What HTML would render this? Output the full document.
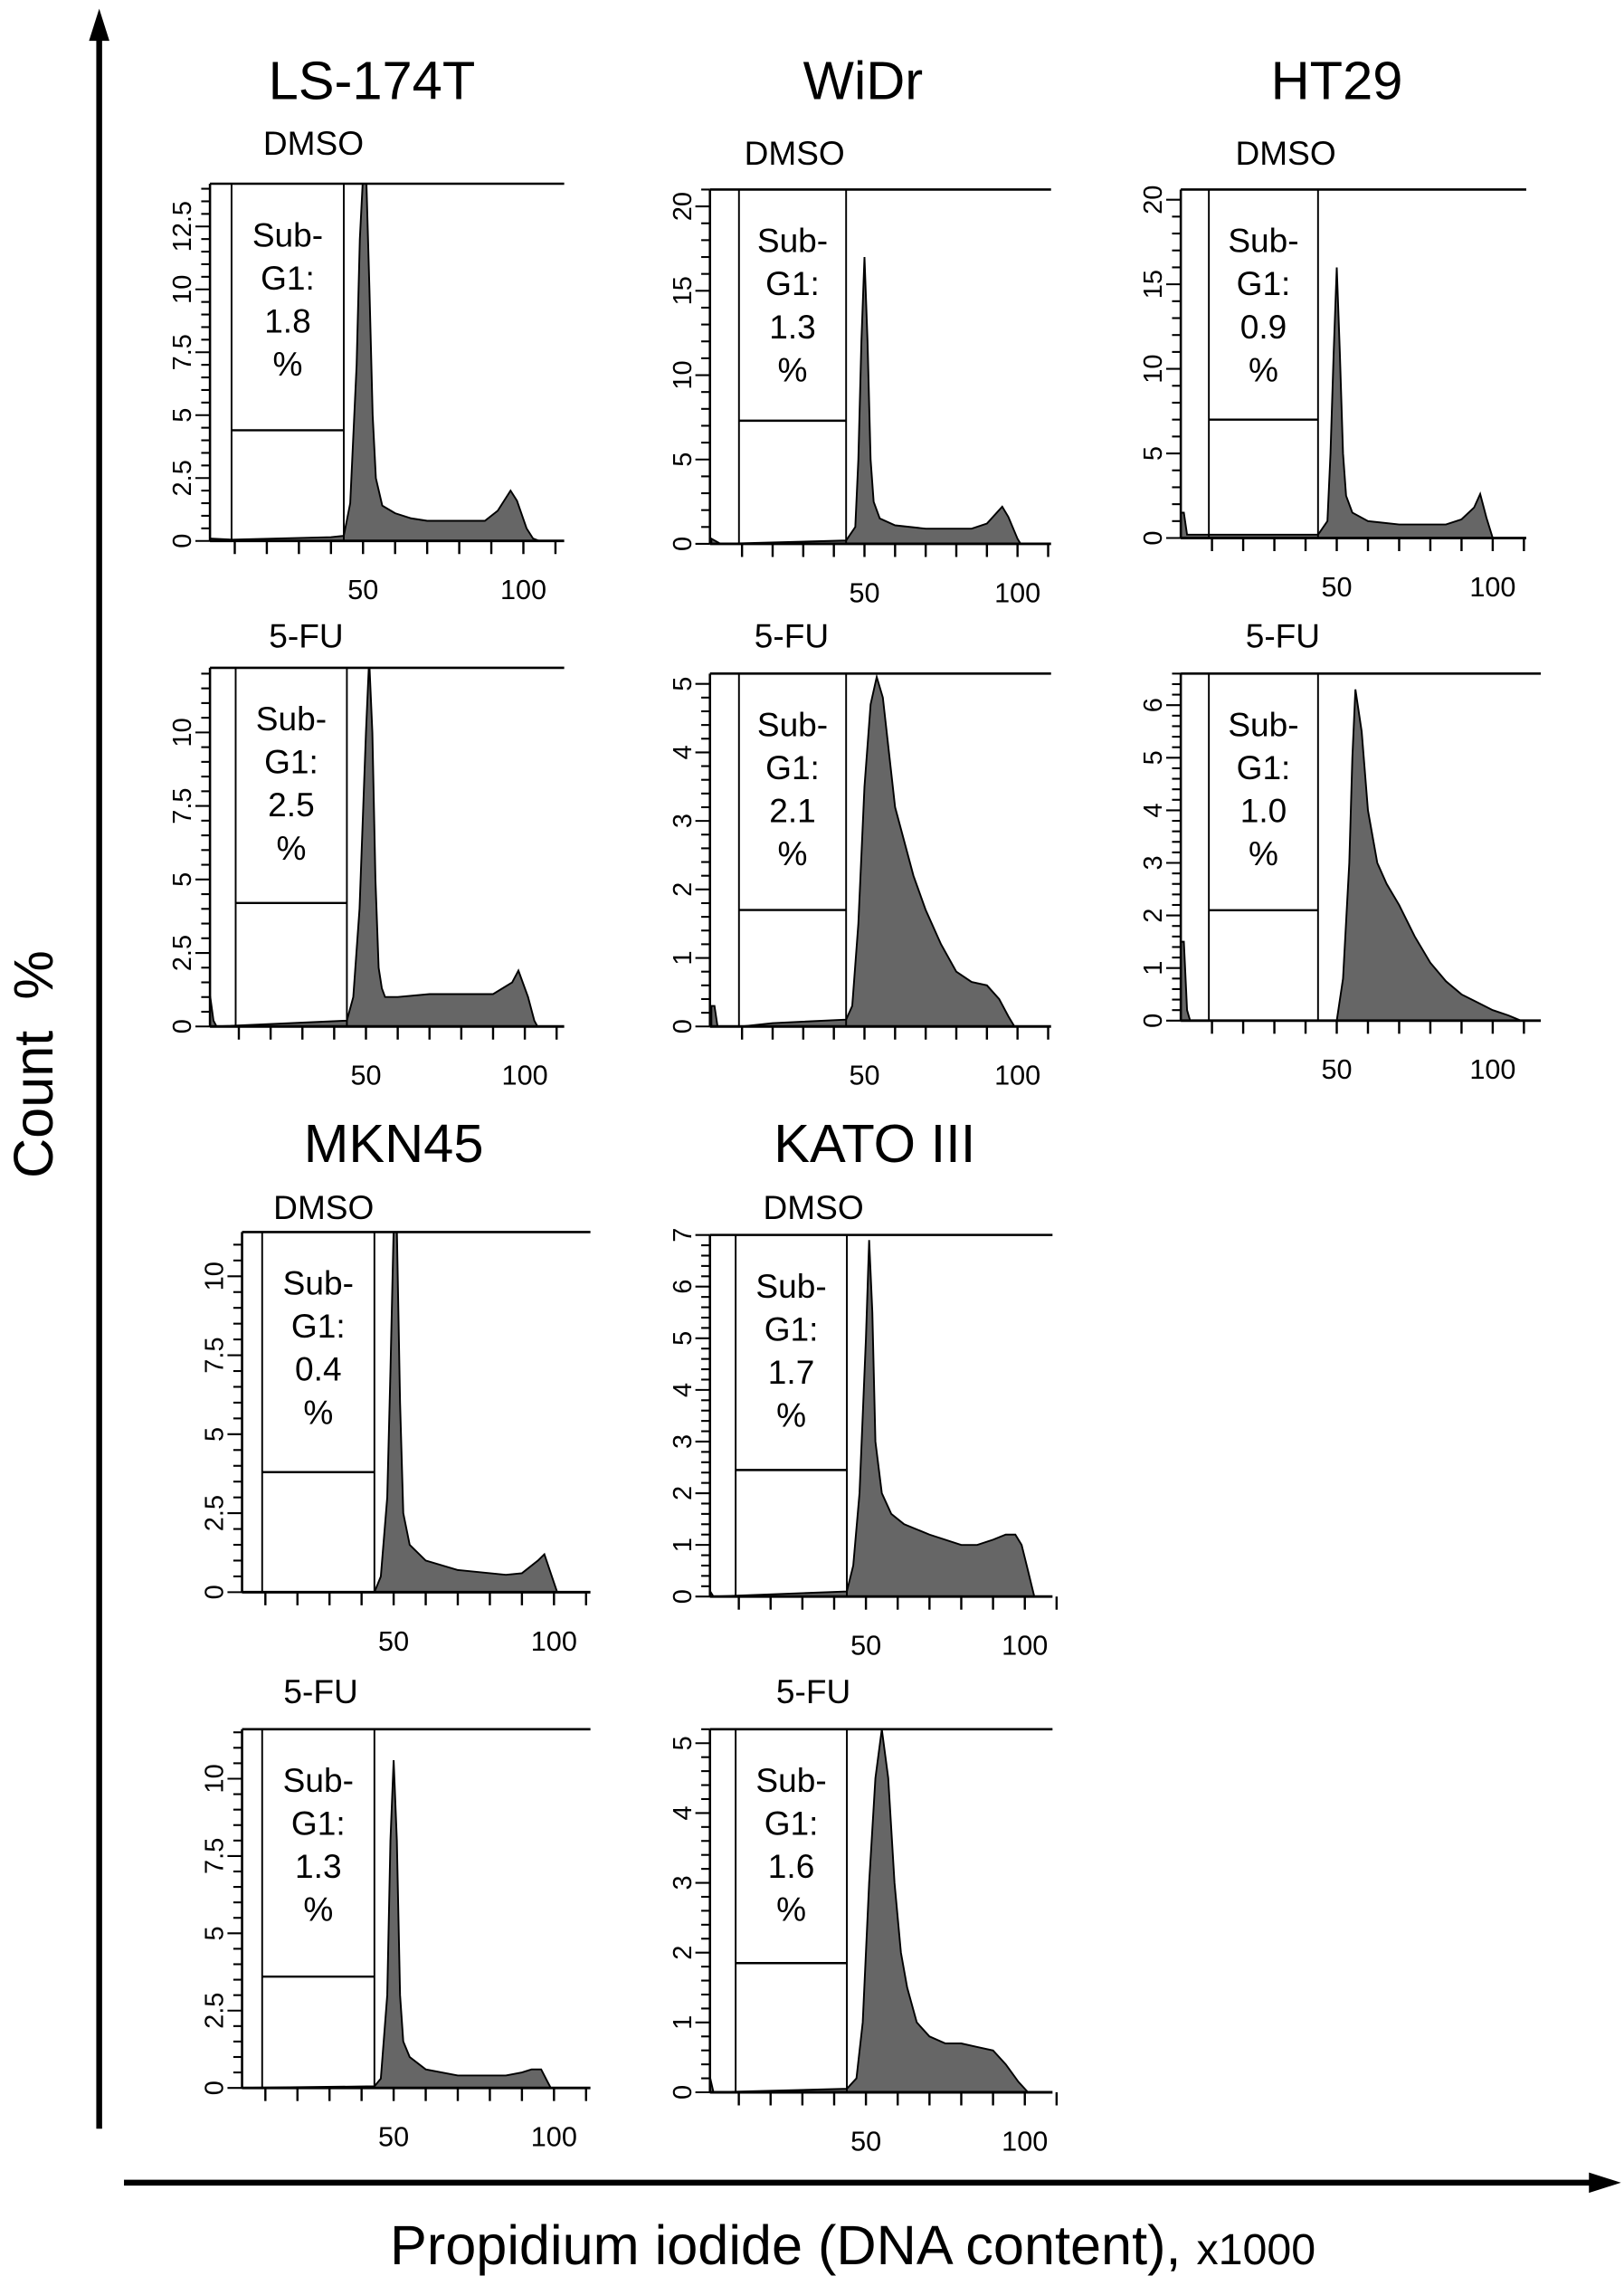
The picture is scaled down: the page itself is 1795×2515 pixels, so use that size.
<!DOCTYPE html>
<html><head><meta charset="utf-8">
<style>
html,body{margin:0;padding:0;background:#fff;}
svg{display:block;}
text{font-family:"Liberation Sans",sans-serif;fill:#000;}
</style></head>
<body>
<svg id="fig" xmlns="http://www.w3.org/2000/svg" width="1795" height="2515" viewBox="0 0 1114 1561">
  <g>
    <line x1="68" y1="1460" x2="68" y2="24" stroke="#000" stroke-width="4"/>
    <polygon points="68,6 61,28 75,28" fill="#000"/>
  </g>
  <g>
    <line x1="85" y1="1497" x2="1094" y2="1497" stroke="#000" stroke-width="4"/>
    <polygon points="1112,1497 1090,1490 1090,1504" fill="#000"/>
  </g>
  <text transform="translate(36,730) rotate(-90)" text-anchor="middle" font-size="38" xml:space="preserve">Count  %</text>
  <text x="585" y="1553" text-anchor="middle" font-size="38">Propidium iodide (DNA content), <tspan font-size="30">x1000</tspan></text>
  <text x="255" y="68" text-anchor="middle" font-size="37">LS-174T</text>
  <text x="592" y="68" text-anchor="middle" font-size="37">WiDr</text>
  <text x="917" y="68" text-anchor="middle" font-size="37">HT29</text>
  <text x="270" y="797" text-anchor="middle" font-size="37">MKN45</text>
  <text x="600" y="797" text-anchor="middle" font-size="37">KATO III</text>
</svg>
<script>
// ---- data (channel x1000, count %) ----
const lsDmsoX = [0,2,9,40,44,46,48,49,50,51,52,53,54,56,60,65,70,80,88,92,96,98,101,103,105];
const lsDmsoY = [0.6,0.1,0.05,0.15,0.2,1.5,7,12,14.5,14.5,10,5,2.5,1.4,1.1,0.9,0.8,0.8,0.8,1.2,2,1.6,0.5,0.1,0];
const widrDmsoX = [0,3,44,47,48,49,50,51,52,53,55,60,70,85,90,95,97,100,101];
const widrDmsoY = [0.3,0,0.2,1,5,12,17,12,5,2.5,1.5,1.1,0.9,0.9,1.2,2.2,1.6,0.3,0];
const ht29DmsoX = [0,1,2,44,47,48,49,50,51,52,53,55,60,70,85,90,94,96,98,100];
const ht29DmsoY = [1.5,1.5,0.2,0.2,1,5,11,16,11,5,2.5,1.5,1.0,0.8,0.8,1.1,1.8,2.6,1.2,0];
const lsFuX = [0,1,2,3,44,46,48,50,51,52,53,54,55,56,60,70,80,90,96,98,101,103,104];
const lsFuY = [1,1,0.2,0,0.2,1,4,10,12.5,10,5,2,1.3,1,1,1.1,1.1,1.1,1.5,1.9,1,0.2,0];
const widrFuX = [0,1,2,10,20,44,46,48,50,52,54,56,58,60,63,66,70,75,80,85,90,94,97,99];
const widrFuY = [0.3,0.3,0,0,0.05,0.1,0.3,1.5,3.5,4.7,5.1,4.8,4,3.2,2.7,2.2,1.7,1.2,0.8,0.65,0.6,0.4,0.15,0];
const ht29FuX = [0,1,2,3,50,52,54,55,56,58,60,63,66,70,75,80,85,90,95,100,105,109];
const ht29FuY = [1.5,1.5,0.2,0,0,0.8,3,5,6.3,5.5,4,3,2.6,2.2,1.6,1.1,0.75,0.5,0.35,0.2,0.1,0];
const mknDmsoX = [0,2,44,46,48,49,50,51,52,53,55,60,70,85,90,95,97,100,101];
const mknDmsoY = [0.5,0,0,0.5,3,7,11.5,11.5,6,2.5,1.5,1,0.7,0.55,0.6,1,1.2,0.3,0];
const katoDmsoX = [0,2,44,46,48,50,51,52,53,55,58,62,70,80,85,90,94,97,99,101,103];
const katoDmsoY = [0.2,0,0.1,0.6,2,5,6.9,5.5,3,2,1.6,1.4,1.2,1.0,1.0,1.1,1.2,1.2,1.0,0.5,0];
const mknFuX = [0,2,44,46,48,49,50,51,52,53,55,60,70,85,90,93,96,98,99];
const mknFuY = [0.4,0,0.05,0.3,3,8,10.6,8,3,1.5,1,0.6,0.4,0.4,0.5,0.6,0.6,0.2,0];
const katoFuX = [0,1,2,44,47,49,51,53,55,57,59,61,63,66,70,75,80,85,90,94,98,101];
const katoFuY = [0.2,0.2,0,0.05,0.2,1,3,4.5,5.2,4.5,3,2,1.5,1,0.8,0.7,0.7,0.65,0.6,0.4,0.15,0];
const subG1Values = ["1.8","1.3","0.9","2.5","2.1","1.0","0.4","1.7","1.3","1.6"];
const treatmentLabels = ["DMSO","DMSO","DMSO","5-FU","5-FU","5-FU","DMSO","DMSO","5-FU","5-FU"];
const xTickLabels = ["50","100"];
const yMaxs = [14.2,21,20.6,12.2,5.15,6.6,11.4,7.0,11.6,5.2];
const yMajorSteps = [2.5,5,5,2.5,1,1,2.5,1,2.5,1];
const yTopTicks = [12.5,20,20,10,5,6,10,7,10,5];
const gateMarkerLevels = [4.4,7.3,7.0,4.2,1.7,2.1,3.8,2.45,3.6,1.85];

// ---- layout (thumbnail units) ----
const panels = [
 {key:'ls-dmso',ax:144,top:126,base:371,right:387,x50:249,x100:359,lblX:215,lblY:106,xs:lsDmsoX,ys:lsDmsoY},
 {key:'widr-dmso',ax:487,top:130,base:373,right:721,x50:593,x100:698,lblX:545,lblY:113,xs:widrDmsoX,ys:widrDmsoY},
 {key:'ht29-dmso',ax:810,top:130,base:369,right:1047,x50:917,x100:1024,lblX:882,lblY:113,xs:ht29DmsoX,ys:ht29DmsoY},
 {key:'ls-5fu',ax:144,top:458,base:704,right:387,x50:251,x100:360,lblX:210,lblY:444,xs:lsFuX,ys:lsFuY},
 {key:'widr-5fu',ax:487,top:462,base:704,right:721,x50:593,x100:698,lblX:543,lblY:444,xs:widrFuX,ys:widrFuY},
 {key:'ht29-5fu',ax:810,top:462,base:700,right:1057,x50:917,x100:1024,lblX:880,lblY:444,xs:ht29FuX,ys:ht29FuY},
 {key:'mkn45-dmso',ax:166,top:845,base:1092,right:405,x50:270,x100:380,lblX:222,lblY:836,xs:mknDmsoX,ys:mknDmsoY},
 {key:'kato-dmso',ax:487,top:847,base:1095,right:722,x50:594,x100:703,lblX:558,lblY:836,xs:katoDmsoX,ys:katoDmsoY},
 {key:'mkn45-5fu',ax:166,top:1186,base:1432,right:405,x50:270,x100:380,lblX:220,lblY:1168,xs:mknFuX,ys:mknFuY},
 {key:'kato-5fu',ax:487,top:1186,base:1435,right:722,x50:594,x100:703,lblX:558,lblY:1168,xs:katoFuX,ys:katoFuY}
];
const NS='http://www.w3.org/2000/svg';
const svg=document.getElementById('fig');
function mk(tag,attrs,parent){const e=document.createElementNS(NS,tag);for(const k in attrs)e.setAttribute(k,attrs[k]);(parent||svg).appendChild(e);return e;}

panels.forEach((p,i)=>{
  const g=mk('g',{});
  
  
  const kx=(p.x100-p.x50)/50;
  const X=v=>p.x50+(v-50)*kx;
  const ymax=yMaxs[i];
  const Y=v=>p.base-(v/ymax)*(p.base-p.top);
  const cp=mk('clipPath',{id:'clip'+i},g);
  mk('rect',{x:p.ax,y:p.top,width:p.right-p.ax,height:p.base-p.top+1},cp);
  let pts=[[X(p.xs[0]),p.base]];
  for(let j=0;j<p.xs.length;j++)pts.push([X(p.xs[j]),Y(p.ys[j])]);
  pts.push([X(p.xs[p.xs.length-1]),p.base]);
  const h=mk('polygon',{points:pts.map(q=>q[0].toFixed(1)+','+q[1].toFixed(1)).join(' '),fill:'#666',stroke:'#000','stroke-width':1.2,'clip-path':'url(#clip'+i+')'},g);
  
  
  const gx1=X(9), gx2=X(44);
  mk('line',{x1:gx1,y1:p.top,x2:gx1,y2:p.base,stroke:'#000','stroke-width':1.2},g);
  mk('line',{x1:gx2,y1:p.top,x2:gx2,y2:p.base,stroke:'#000','stroke-width':1.2},g);
  const gm=mk('line',{x1:gx1,y1:Y(gateMarkerLevels[i]),x2:gx2,y2:Y(gateMarkerLevels[i]),stroke:'#000','stroke-width':1.5},g);
  
  
  mk('line',{x1:p.ax,y1:p.top,x2:p.right,y2:p.top,stroke:'#000','stroke-width':1.6},g);
  mk('line',{x1:p.ax,y1:p.top,x2:p.ax,y2:p.base,stroke:'#000','stroke-width':1.6},g);
  mk('line',{x1:p.ax,y1:p.base,x2:p.right,y2:p.base,stroke:'#000','stroke-width':1.8},g);
  for(let t=10;t<=110;t+=10){mk('line',{x1:X(t),y1:p.base,x2:X(t),y2:p.base+9,stroke:'#000','stroke-width':1.5},g);}
  xTickLabels.forEach(l=>{
    const t=mk('text',{x:X(+l),y:p.base+40,'text-anchor':'middle','font-size':19},g);
    t.textContent=l;
    
    
  });
  const st=yMajorSteps[i], mn=st/5;
  for(let v=0;v<=ymax+1e-6;v+=mn){
    const major=Math.abs(v/st-Math.round(v/st))<1e-6;
    const yy=Y(v);
    mk('line',{x1:p.ax-(major?10:6),y1:yy,x2:p.ax,y2:yy,stroke:'#000','stroke-width':1.3},g);
  }
  for(let v=0;v<=yTopTicks[i]+1e-6;v+=st){
    const yy=Y(v);
    const t=mk('text',{transform:'translate('+(p.ax-13)+','+yy.toFixed(1)+') rotate(-90)','text-anchor':'middle','font-size':18},g);
    t.textContent=String(Math.round(v*10)/10);
    
    
  }
  const tl=mk('text',{x:p.lblX,y:p.lblY,'text-anchor':'middle','font-size':23},g);
  tl.textContent=treatmentLabels[i];
  
  
  const cx=(gx1+gx2)/2;
  ['Sub-','G1:',subG1Values[i],'%'].forEach((s,k)=>{
    const t=mk('text',{x:cx,y:p.top+43+k*29.5,'text-anchor':'middle','font-size':23},g);
    t.textContent=s;
    
    
  });
});
</script>
</body></html>
